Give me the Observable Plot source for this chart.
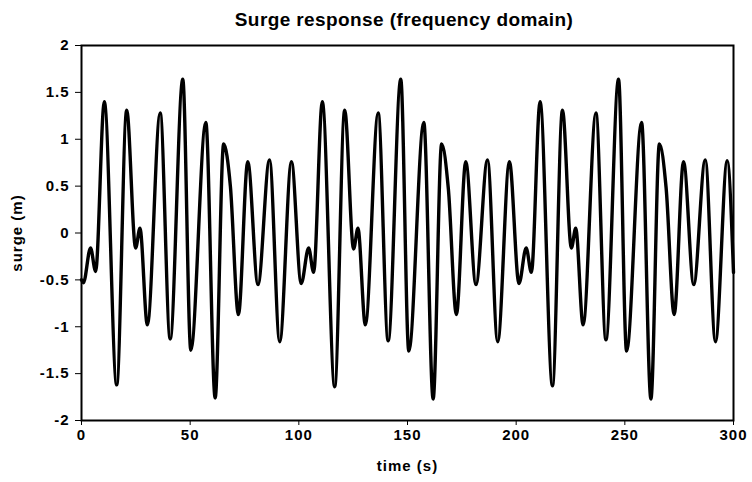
<!DOCTYPE html>
<html>
<head>
<meta charset="utf-8">
<script src="https://cdn.jsdelivr.net/npm/d3@7"></script>
<script src="https://cdn.jsdelivr.net/npm/@observablehq/plot@0.6"></script>
<style>
  html, body { margin: 0; padding: 0; background: #fff; }
  #title {
    box-sizing: border-box; width: 752px; height: 32px;
    padding-left: 56px; padding-top: 8px; text-align: center;
    font-family: "Liberation Sans", Arial, sans-serif; font-weight: bold;
    font-size: 19px; letter-spacing: 0.4px; line-height: 24px; color: #000;
  }
  #chart svg text { letter-spacing: 1px; }
</style>
</head>
<body>
<div id="title">Surge response (frequency domain)</div>
<div id="chart"></div>
<script>
// Extrema of the surge trace (time in s, surge in m)
const period1Time  = [0, 0.9, 4.15, 6.5, 10.5, 16.2, 20.8, 24.9, 26.9, 30.3, 36.2, 40.8, 46.6, 50.3, 57.2, 61.5, 65.4, 68.5, 72.2, 76.5, 81.2, 86.5, 91.2, 96.6];
const period1Surge = [-0.50, -0.53, -0.16, -0.41, 1.40, -1.62, 1.31, -0.16, 0.05, -0.98, 1.28, -1.13, 1.64, -1.25, 1.18, -1.76, 0.95, 0.50, -0.87, 0.76, -0.55, 0.78, -1.16, 0.76];
const period2Time  = [101.1, 104.5, 106.8, 110.8, 116.5, 121.1, 125.2, 127.2, 130.6, 136.5, 141.1, 146.9, 150.6, 157.5, 161.8, 165.7, 168.8, 172.5, 176.8, 181.5, 186.8, 191.5, 196.9];
const period2Surge = [-0.54, -0.16, -0.42, 1.40, -1.64, 1.31, -0.17, 0.05, -0.98, 1.28, -1.15, 1.64, -1.26, 1.18, -1.77, 0.95, 0.47, -0.87, 0.76, -0.55, 0.78, -1.16, 0.76];
const period3Time  = [201.3, 204.6, 207.0, 211.0, 216.7, 221.3, 225.4, 227.4, 230.8, 236.7, 241.3, 247.1, 250.8, 257.7, 262.0, 265.9, 269.0, 272.7, 277.0, 281.7, 287.0, 291.7, 297.1, 300];
const period3Surge = [-0.54, -0.16, -0.42, 1.40, -1.63, 1.31, -0.16, 0.05, -0.98, 1.28, -1.14, 1.64, -1.26, 1.18, -1.77, 0.95, 0.48, -0.87, 0.76, -0.55, 0.78, -1.16, 0.77, -0.42];

const xTicks = [0, 50, 100, 150, 200, 250, 300];
const yTicks = [-2, -1.5, -1, -0.5, 0, 0.5, 1, 1.5, 2];

const times = [...period1Time, ...period2Time, ...period3Time];
const surges = [...period1Surge, ...period2Surge, ...period3Surge];
const data = times.map((t, i) => ({t, v: surges[i]}));

const chart = Plot.plot({
  width: 752,
  height: 450,
  marginLeft: 81,
  marginRight: 19,
  marginTop: 13,
  marginBottom: 62,
  style: {
    fontFamily: "'Liberation Sans', Arial, sans-serif",
    fontSize: "15px",
    fontWeight: "bold",
    color: "#000",
    background: "#fff"
  },
  x: {
    domain: [0, 300],
    ticks: xTicks,
    tickFormat: d => String(d),
    tickSize: 5,
    tickPadding: 4,
    label: "time (s)",
    labelAnchor: "center",
    labelArrow: "none",
    labelOffset: 50
  },
  y: {
    domain: [-2, 2],
    ticks: yTicks,
    tickFormat: d => String(d),
    tickSize: 6,
    tickPadding: 6,
    label: "surge (m)",
    labelAnchor: "center",
    labelArrow: "none",
    labelOffset: 70
  },
  marks: [
    Plot.frame({stroke: "#000", strokeWidth: 2}),
    Plot.line(data, {x: "t", y: "v", curve: "monotone-x", stroke: "#000", strokeWidth: 3.4, strokeLinejoin: "round"})
  ]
});
document.getElementById("chart").appendChild(chart);
</script>
</body>
</html>
